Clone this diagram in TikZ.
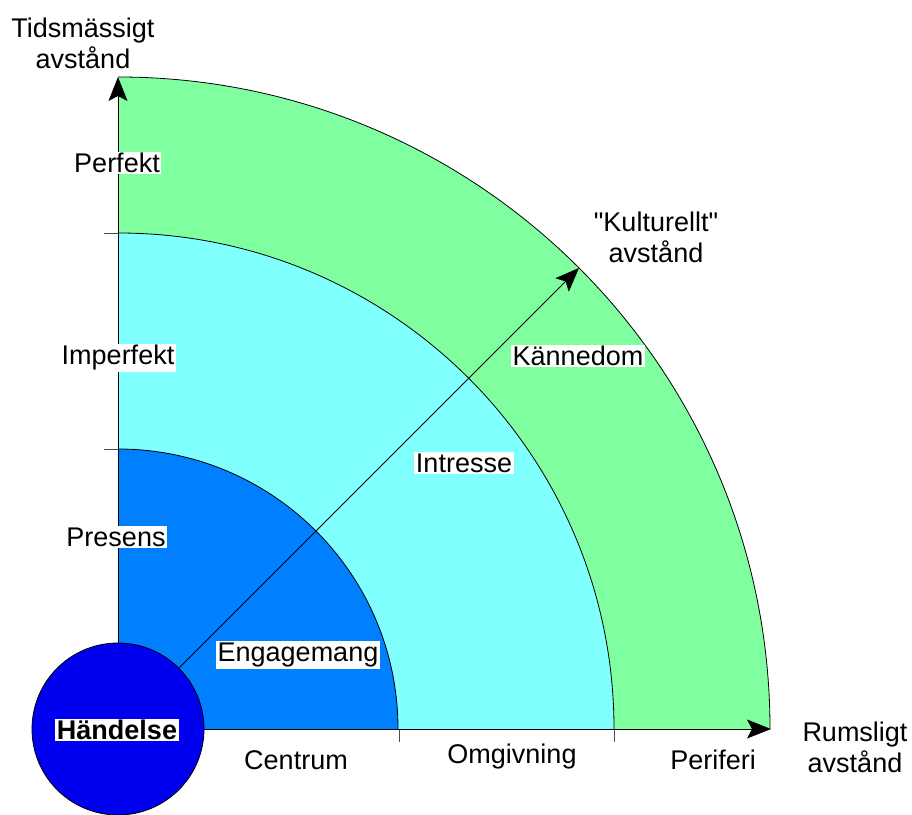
\documentclass[tikz,border=0pt]{standalone}
\usepackage{fontspec}
\setmainfont{Liberation Sans}
\newfontfamily\plainf{Liberation Sans}
\usetikzlibrary{arrows.meta,calc}
\definecolor{outerg}{RGB}{128,255,160}
\definecolor{midc}{RGB}{128,255,255}
\definecolor{innerb}{RGB}{0,128,255}
\definecolor{evblue}{RGB}{0,0,240}
\tikzset{
  lbl/.style={font=\fontsize{27}{31}\selectfont, inner sep=1.5pt, align=center},
  wlbl/.style={lbl, fill=white},
  arcline/.style={draw=black, line width=0.8pt},
  axis/.style={line width=0.8pt, -{Stealth[length=24pt,width=19pt,inset=5pt]}},
  tick/.style={line width=0.8pt, draw=black!70}
}
\begin{document}
\begin{tikzpicture}[x=1pt,y=1pt]
\useasboundingbox (0,0) rectangle (912,814);
\coordinate (O) at (118,85);
% sectors
\fill[outerg] (O) -- ++(652,0) arc[start angle=0,end angle=90,radius=652] -- cycle;
\fill[midc] (O) -- ++(496,0) arc[start angle=0,end angle=90,radius=496] -- cycle;
\fill[innerb] (O) -- ++(280,0) arc[start angle=0,end angle=90,radius=280] -- cycle;
\draw[arcline] ($(O)+(652,0)$) arc[start angle=0,end angle=90,radius=652];
\draw[arcline] ($(O)+(496,0)$) arc[start angle=0,end angle=90,radius=496];
\draw[arcline] ($(O)+(280,0)$) arc[start angle=0,end angle=90,radius=280];
% ticks
\draw[tick] (104,581) -- (118,581);
\draw[tick] (104,365) -- (118,365);
\draw[tick] (399,85) -- (399,72);
\draw[tick] (614,85) -- (614,72);
% event circle
\node[circle, fill=evblue, draw=black, line width=0.8pt, minimum size=172pt, inner sep=0pt] (ev) at (O) {};
% axes
\coordinate (ytip) at (118,737);
\coordinate (xtip) at (771,85);
\coordinate (dtip) at ($(O)+(45:652)$);
\draw[axis] (ev.north) -- (ytip);
\draw[axis] (ev.east) -- (xtip);
\draw[axis] (ev.45) -- (dtip);
% labels
\node[lbl] (ty) at (83,771) {Tidsmässigt\\avstånd};
\node[lbl] (tx) at (855,67) {Rumsligt\\avstånd};
\node[lbl, font=\fontsize{27}{31}\selectfont\plainf] (td) at (656,577) {"Kulturellt"\\avstånd};
\node[wlbl] (perf) at (117,651) {Perfekt};
\node[wlbl] (imp) at (118,456) {Imperfekt};
\node[wlbl] (pres) at (116,277) {Presens};
\node[wlbl] (kan) at (578,458) {Kännedom};
\node[wlbl] (intr) at (464,351) {Intresse};
\node[wlbl] (eng) at (298,159) {Engagemang};
\node[wlbl, font=\fontsize{27}{31}\selectfont\bfseries] (hand) at (117,84) {Händelse};
\node[lbl] (cen) at (296,54) {Centrum};
\node[lbl] (omg) at (512,57) {Omgivning};
\node[lbl] (per) at (713,54) {Periferi};
\end{tikzpicture}
\end{document}
